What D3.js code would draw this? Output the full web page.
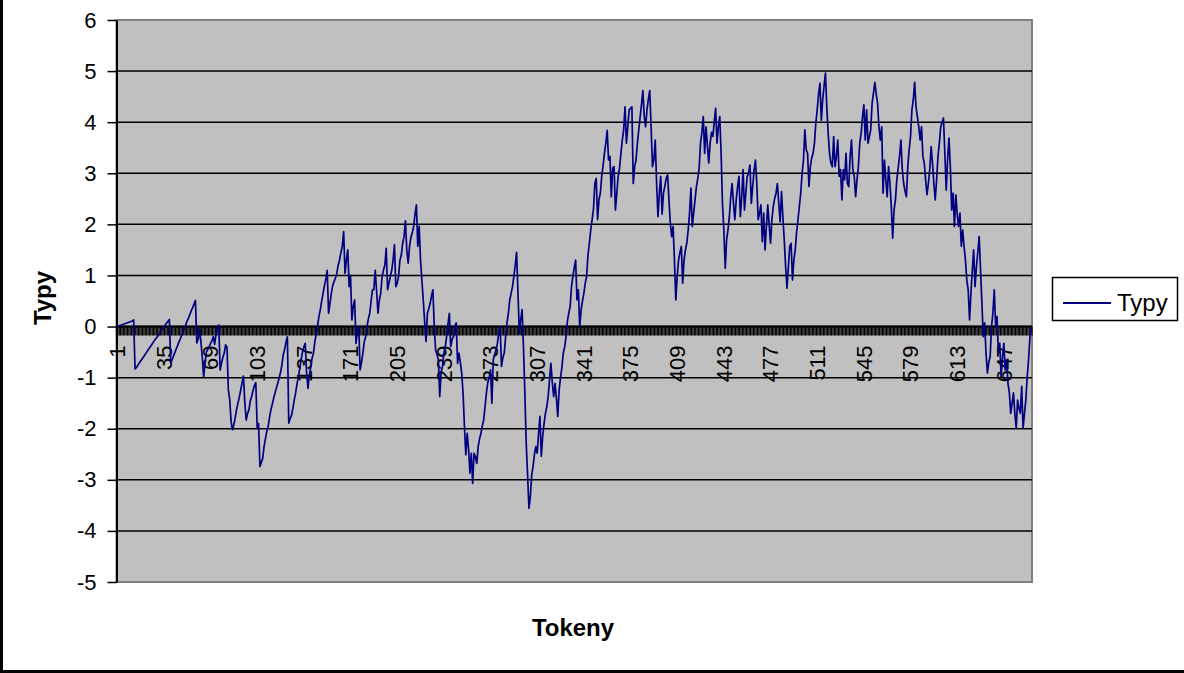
<!DOCTYPE html>
<html>
<head>
<meta charset="utf-8">
<script src="https://cdn.jsdelivr.net/npm/d3@7"></script>
<style>
  body { margin: 0; background: #fff; }
  svg { display: block; }
  text { font-family: "Liberation Sans", Arial, sans-serif; fill: #000; }
</style>
</head>
<body>
<div id="chart"></div>
<script>
// series "Typy", one value per token
var typy = [
  0, 0.01, 0.02, 0.03, 0.04, 0.05, 0.06, 0.07, 0.08, 0.09, 0.10, 0.11, 0.13,
  -0.83, -0.80, -0.76, -0.72, -0.68, -0.64, -0.60, -0.56, -0.52, -0.48, -0.44, -0.40, -0.36, -0.32, -0.28, -0.24, -0.21, -0.17, -0.13, -0.09, -0.05, -0.01, 0.03, 0.07, 0.10, 0.14,
  -0.71, -0.65, -0.58, -0.51, -0.44, -0.37, -0.30, -0.24, -0.17, -0.10, -0.03, 0.04, 0.11, 0.17, 0.24, 0.31, 0.37, 0.44, 0.51,
  -0.32, -0.25, -0.05, -0.30, -0.60, -0.98, -0.72, -0.50, -0.45, -0.40, -0.33, -0.28, -0.20, -0.35, -0.15, -0.05, 0.03, -0.85, -0.72, -0.60, -0.52, -0.36, -0.40, -1.24, -1.43, -1.86,
  -2.02, -1.92, -1.78, -1.62, -1.50, -1.38, -1.24, -1.10, -0.97, -1.50, -1.83, -1.70, -1.63, -1.45, -1.37, -1.25,
  -1.15, -1.10, -1.99, -1.90, -2.74, -2.66, -2.58, -2.35, -2.20, -2.05, -1.95, -1.78, -1.63, -1.52, -1.40, -1.30, -1.20, -1.11, -1.00, -0.90,
  -0.75, -0.55, -0.45, -0.30, -0.20, -1.89, -1.80, -1.74, -1.60, -1.44, -1.30, -1.12, -1.00, -0.82, -0.65, -0.50, -0.40, -0.33, -0.90, -1.21,
  -0.95, -0.80, -0.62, -0.52, -0.30, -0.15, 0.02, 0.20, 0.33, 0.50, 0.65, 0.80, 0.92, 1.10, 0.26, 0.45, 0.65, 0.80, 0.88, 0.95,
  1.04, 1.20, 1.30, 1.45, 1.57, 1.86, 1.04, 1.30, 1.50, 0.78, 1.00, 0.13, 0.40, 0.52, -0.33, -0.10, 0.00, -0.85, -0.70, -0.52,
  -0.30, -0.20, 0.00, 0.15, 0.26, 0.50, 0.72, 0.72, 1.10, 0.70, 0.26, 0.52, 0.65, 0.98, 1.10, 1.20, 1.53, 0.72, 0.85, 0.98,
  1.10, 1.30, 1.60, 0.78, 0.85, 0.98, 1.30, 1.40, 1.63, 1.76, 2.07, 1.50, 1.24, 1.57, 1.75, 1.83, 1.96, 2.20, 2.38, 1.57,
  1.96, 1.30, 0.90, 0.52, 0.10, -0.29, 0.26, 0.35, 0.45, 0.60, 0.72, 0.00, -0.46, -0.55, -0.65, -1.37, -0.90, -0.78, -0.52, -0.40,
  -0.20, 0.05, 0.26, -0.39, -0.25, -0.20, 0.00, 0.07, -0.72, -0.52, -0.70, -0.91, -1.30, -1.96, -2.51, -2.09, -2.40, -2.87, -2.48, -3.07,
  -2.48, -2.55, -2.68, -2.35, -2.20, -2.09, -1.95, -1.83, -1.57, -1.30, -1.10, -1.00, -0.85, -1.50, -0.65, -0.55, -0.46, -0.33, -0.10, 0.00,
  -0.78, -0.60, -0.52, -0.20, 0.07, 0.26, 0.52, 0.65, 0.78, 0.98, 1.20, 1.45, 0.65, -0.13, 0.13, 0.33, -0.39, -1.30, -2.28, -2.90,
  -3.56, -3.33, -2.90, -2.74, -2.50, -2.35, -2.48, -2.09, -1.76, -2.54, -2.15, -1.90, -1.70, -1.57, -1.37, -1.04, -0.72, -1.10, -1.37, -1.11,
  -1.40, -1.76, -1.24, -1.00, -0.80, -0.52, -0.40, -0.20, 0.10, 0.26, 0.39, 0.78, 0.98, 1.15, 1.30, 0.52, 0.72, 0.00, 0.33, 0.50,
  0.65, 0.85, 0.98, 1.40, 1.63, 1.89, 2.09, 2.30, 2.80, 2.90, 2.09, 2.48, 2.61, 2.94, 3.15, 3.39, 3.59, 3.84, 3.26, 3.33,
  2.54, 3.10, 3.13, 2.28, 2.61, 2.94, 3.10, 3.39, 3.65, 3.85, 4.30, 3.59, 3.91, 4.24, 4.27, 4.30, 2.80, 3.13, 3.26, 3.59,
  3.85, 4.10, 4.35, 4.62, 4.11, 3.91, 4.24, 4.45, 4.62, 3.91, 3.13, 3.26, 3.65, 2.80, 2.15, 2.61, 2.94, 2.20, 2.61, 2.75,
  2.90, 2.97, 2.48, 2.02, 1.76, 1.96, 1.30, 0.52, 0.98, 1.30, 1.45, 1.57, 0.85, 1.30, 1.50, 1.63, 1.89, 2.22, 2.71, 1.96,
  2.22, 2.48, 2.74, 2.90, 3.10, 3.59, 3.80, 4.11, 3.39, 3.91, 3.55, 3.20, 3.59, 3.80, 3.72, 4.00, 4.27, 3.59, 3.91, 4.11,
  3.39, 2.40, 1.89, 1.14, 1.70, 1.89, 2.15, 2.54, 2.80, 2.41, 2.09, 2.48, 2.74, 2.94, 2.15, 2.54, 3.07, 2.28, 2.61, 2.94,
  3.00, 3.16, 2.41, 2.74, 3.05, 3.26, 2.80, 2.09, 2.22, 2.38, 1.66, 2.22, 1.50, 1.96, 2.38, 2.00, 1.63, 2.09, 2.35, 2.50,
  2.61, 2.80, 2.41, 2.05, 2.64, 2.15, 1.70, 1.17, 0.75, 1.17, 1.57, 1.63, 0.91, 1.30, 1.50, 1.85, 2.09, 2.35, 2.61, 3.00,
  3.26, 3.85, 3.46, 3.39, 2.74, 3.13, 3.30, 3.39, 3.59, 3.98, 4.24, 4.55, 4.76, 4.04, 4.44, 4.70, 4.96, 4.30, 3.78, 3.39,
  3.20, 3.13, 3.72, 3.13, 3.33, 3.65, 2.94, 3.07, 2.48, 3.07, 2.87, 3.39, 2.80, 2.74, 3.33, 3.65, 3.07, 2.94, 2.54, 2.87,
  3.13, 3.59, 3.78, 4.10, 4.34, 3.65, 4.24, 3.59, 3.72, 3.85, 4.37, 4.57, 4.78, 4.55, 4.37, 3.91, 3.65, 3.91, 2.61, 3.26,
  2.87, 2.54, 3.13, 2.80, 2.35, 1.73, 2.28, 2.48, 2.87, 3.10, 3.33, 3.65, 3.07, 2.80, 2.65, 2.54, 3.13, 3.46, 3.72, 4.24,
  4.44, 4.78, 4.30, 4.11, 3.91, 3.65, 3.91, 3.33, 3.20, 2.87, 2.58, 2.80, 3.07, 3.52, 3.20, 2.80, 2.48, 2.87, 3.33, 3.59,
  3.91, 4.00, 4.08, 3.39, 2.67, 3.26, 3.69, 3.13, 2.28, 2.61, 1.96, 2.58, 2.20, 1.96, 2.22, 1.57, 1.89, 1.57, 1.30, 0.91,
  0.72, 0.13, 0.65, 1.10, 1.50, 0.78, 1.17, 1.45, 1.76, 1.11, 0.46, -0.20, 0.07, -0.52, -0.91, -0.70, -0.59, 0.00, 0.26, 0.72,
  0.00, 0.20, -0.52, -0.33, -0.98, -0.60, -0.33, -0.85, -0.65, -1.11, -1.30, -1.70, -1.50, -1.30, -1.70, -1.99, -1.44, -1.60, -1.70, -1.17,
  -1.99, -1.70, -1.44, -0.98, -0.65, -0.20, -0.03
];

// token numbers 1..n are the categories
var tokens = d3.range(1, typy.length + 1);
var xTickLabels = [1, 35, 69, 103, 137, 171, 205, 239, 273, 307, 341, 375, 409, 443, 477, 511, 545, 579, 613, 647];
var yTicks = [-5, -4, -3, -2, -1, 0, 1, 2, 3, 4, 5, 6];
var seriesName = "Typy";
var xTitle = "Tokeny";
var yTitle = "Typy";

var width = 1184, height = 673;
var plotLeft = 116.5, plotTop = 20, plotRight = 1032, plotBottom = 582;

var svg = d3.select("#chart").append("svg")
    .attr("width", width)
    .attr("height", height);

// outer frame (only left and bottom edge show in the picture)
svg.append("line").attr("x1", 1.5).attr("x2", 1.5).attr("y1", 0).attr("y2", 673)
    .attr("stroke", "#000").attr("stroke-width", 3);
svg.append("line").attr("x1", 0).attr("x2", width).attr("y1", 671.5).attr("y2", 671.5)
    .attr("stroke", "#000").attr("stroke-width", 3);

var x = d3.scalePoint()
    .domain(tokens)
    .range([plotLeft, plotRight])
    .padding(0.5);

var y = d3.scaleLinear()
    .domain([-5, 6])
    .range([plotBottom, plotTop]);

// plot area
svg.append("rect")
    .attr("x", plotLeft).attr("y", plotTop)
    .attr("width", plotRight - plotLeft).attr("height", plotBottom - plotTop)
    .attr("fill", "#c0c0c0")
    .attr("stroke", "#808080")
    .attr("stroke-width", 2);

// gridlines
svg.append("g").selectAll("line")
    .data(yTicks.filter(function(d) { return d != -5 && d != 6; }))
  .enter().append("line")
    .attr("x1", plotLeft).attr("x2", plotRight)
    .attr("y1", function(d) { return y(d); })
    .attr("y2", function(d) { return y(d); })
    .attr("stroke", "#000")
    .attr("stroke-width", 1.5);

// y axis (plain hyphen for negatives, like the original)
var yAxis = d3.axisLeft(y)
    .tickValues(yTicks)
    .tickFormat(function(d) { return String(d); })
    .tickSize(9)
    .tickSizeOuter(0)
    .tickPadding(11);

var gy = svg.append("g")
    .attr("transform", "translate(" + plotLeft + ",0)")
    .call(yAxis);
gy.select(".domain").attr("stroke", "#000").attr("stroke-width", 2);
gy.selectAll(".tick line").attr("stroke", "#000").attr("stroke-width", 1.5);
gy.selectAll(".tick text")
    .attr("font-size", 22)
    .attr("font-family", "Liberation Sans, Arial, sans-serif");

// x axis sits at y = 0, with a tick between every pair of tokens
var y0 = y(0);
var step = x.step();
var bounds = tokens.map(function(d) { return x(d) - step / 2; });
bounds.push(plotRight);

svg.append("g").selectAll("line")
    .data(bounds)
  .enter().append("line")
    .attr("x1", function(d) { return d; })
    .attr("x2", function(d) { return d; })
    .attr("y1", y0)
    .attr("y2", y0 + 9)
    .attr("stroke", "#000")
    .attr("stroke-width", 1.2);

svg.append("line")
    .attr("x1", plotLeft).attr("x2", plotRight)
    .attr("y1", y0).attr("y2", y0)
    .attr("stroke", "#000").attr("stroke-width", 2);

svg.append("g").selectAll("text")
    .data(xTickLabels)
  .enter().append("text")
    .attr("transform", function(d) { return "translate(" + x(d) + "," + (y0 + 19) + ") rotate(-90)"; })
    .attr("text-anchor", "end")
    .attr("dy", "0.35em")
    .attr("font-size", 22)
    .text(function(d) { return d; });

// the series
var line = d3.line()
    .x(function(d, i) { return x(tokens[i]); })
    .y(function(d) { return y(d); });

svg.append("path")
    .datum(typy)
    .attr("d", line)
    .attr("fill", "none")
    .attr("stroke", "#000080")
    .attr("stroke-width", 1.7)
    .attr("stroke-linejoin", "round");

// axis titles
svg.append("text")
    .attr("transform", "translate(51,298) rotate(-90)")
    .attr("text-anchor", "middle")
    .attr("font-size", 24)
    .attr("font-weight", "bold")
    .text(yTitle);

svg.append("text")
    .attr("x", 573)
    .attr("y", 636)
    .attr("text-anchor", "middle")
    .attr("font-size", 24)
    .attr("font-weight", "bold")
    .text(xTitle);

// legend
var legend = svg.append("g");
legend.append("rect")
    .attr("x", 1052.5).attr("y", 277.5)
    .attr("width", 125).attr("height", 43)
    .attr("fill", "#fff")
    .attr("stroke", "#000")
    .attr("stroke-width", 1.5);
legend.append("line")
    .attr("x1", 1063).attr("x2", 1111)
    .attr("y1", 303).attr("y2", 303)
    .attr("stroke", "#000080")
    .attr("stroke-width", 2);
legend.append("text")
    .attr("x", 1117)
    .attr("y", 311)
    .attr("font-size", 24)
    .text(seriesName);
</script>
</body>
</html>
